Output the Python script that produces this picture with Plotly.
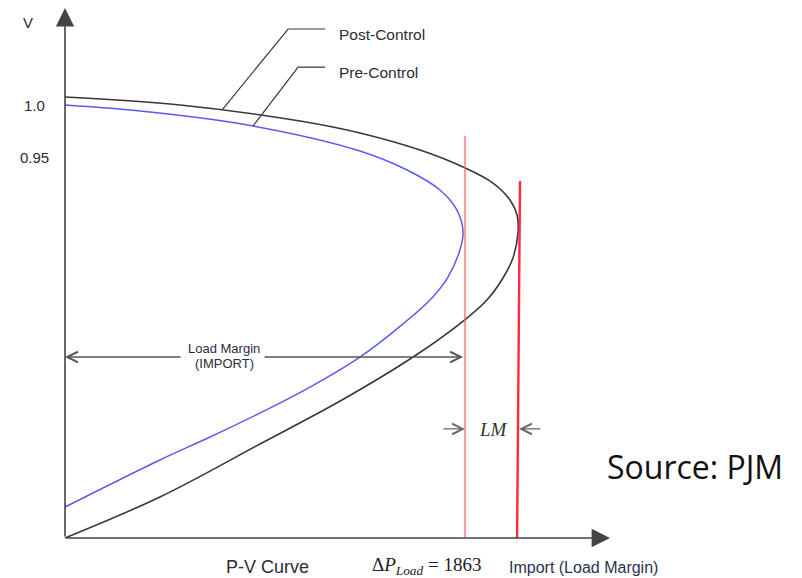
import plotly.graph_objects as go

# ---- data (P in MW, V in pu) ----
post_P = [0, 473, 966, 1212, 1459, 1636, 1759, 1829, 1858, 1862, 1841, 1800, 1734, 1652,
          1443, 1138, 801, 390, 0]
post_V = [1.0077, 1.0, 0.9846, 0.9731, 0.9567, 0.9404, 0.9250, 0.9087, 0.8942, 0.8779, 0.8529,
          0.8337, 0.8125, 0.7952, 0.7596, 0.7163, 0.6740, 0.6231, 0.5837]

pre_P = [0, 349, 773, 1212, 1406, 1541, 1611, 1636, 1623, 1574, 1500, 1348, 1212,
         1007, 801, 596, 390, 0]
pre_V = [1.0, 0.9933, 0.9798, 0.9558, 0.9375, 0.9183, 0.8990, 0.8779, 0.8606, 0.8346, 0.8125,
         0.7817, 0.7577, 0.7288, 0.7038, 0.6808, 0.6587, 0.6135]

tick_vals = [1.0, 0.95]
tick_text = ["1.0", "0.95"]

V_origin = 0.5837
V_axis_top = 1.0933
P_axis_end = 2240

pre_limit_P = 1644
pre_limit_top = 0.9702
post_limit_P_top = 1870
post_limit_P_bot = 1858
post_limit_top = 0.9269

margin_V = 0.7577
lm_V = 0.6885

# the page body has an 8px margin, so the figure sits at (8, 8)
OFF = 8
W, H = 802 - OFF, 578 - OFF
X_RANGE = [-234.3, 3029]
Y_RANGE = [0.5452, 1.0933]


def fx(px):
    return (px - OFF) / W


def fy(py):
    return 1 - (py - OFF) / H


fig = go.Figure()

fig.add_trace(go.Scatter(x=post_P, y=post_V, mode="lines",
                         line=dict(color="#383838", width=1.6, shape="spline", smoothing=1.0),
                         name="Post-Control", hoverinfo="skip"))
fig.add_trace(go.Scatter(x=pre_P, y=pre_V, mode="lines",
                         line=dict(color="#5b5bf2", width=1.5, shape="spline", smoothing=1.0),
                         name="Pre-Control", hoverinfo="skip"))

shapes = []
# limit lines
shapes.append(dict(type="line", x0=pre_limit_P, x1=pre_limit_P, y0=V_origin, y1=pre_limit_top,
                   line=dict(color="rgba(255,90,105,0.6)", width=2.2), layer="above"))
shapes.append(dict(type="line", x0=post_limit_P_bot, x1=post_limit_P_top, y0=V_origin, y1=post_limit_top,
                   line=dict(color="#ff2a3c", width=2.4), layer="above"))
# leader lines
shapes.append(dict(type="path", path="M 645,0.9952 L 917,1.0731 L 1069,1.0731",
                   line=dict(color="#3a3a3a", width=1.2)))
shapes.append(dict(type="path", path="M 773,0.9798 L 958,1.0365 L 1069,1.0365",
                   line=dict(color="#3a3a3a", width=1.2)))

annotations = []


def arrow(x, y, ax, ay, head=2, size=1.0, width=1.5, color="#3a3a3a"):
    annotations.append(dict(x=x, y=y, ax=ax, ay=ay, xref="x", yref="y", axref="x", ayref="y",
                            text="", showarrow=True, arrowhead=head, arrowsize=size,
                            arrowwidth=width, arrowcolor=color, standoff=0))


# axes with arrow heads
arrow(0, V_axis_top, 0, V_origin, head=2, size=2.3, width=1.6, color="#444")
arrow(P_axis_end, V_origin, 0, V_origin, head=2, size=2.3, width=1.6, color="#444")

# load margin arrows
arrow(0, margin_V, 481, margin_V, head=5, size=1.6, width=1.3, color="#555")
arrow(max(pre_P), margin_V, 814, margin_V, head=5, size=1.6, width=1.3, color="#555")

# LM arrows
arrow(pre_limit_P, lm_V, 1549, lm_V, head=5, size=1.6, width=1.3, color="#666")
arrow(1866, lm_V, 1960, lm_V, head=5, size=1.6, width=1.3, color="#666")

txt = "#2c2c38"
sans = "Liberation Sans, Arial, sans-serif"
serif = "Liberation Serif, Times New Roman, serif"


def label(text, px, py, size, anchor="center", family=sans, color=txt):
    annotations.append(dict(x=fx(px), y=fy(py), xref="paper", yref="paper", text=text,
                            showarrow=False, xanchor=anchor, yanchor="middle",
                            font=dict(family=family, size=size, color=color)))


label("V", 28, 23, 15)
for v, t in zip(tick_vals, tick_text):
    annotations.append(dict(x=-126, y=v, xref="x", yref="y", text=t, showarrow=False,
                            xanchor="center", yanchor="middle",
                            font=dict(family=sans, size=15, color=txt)))

label("Post-Control", 337, 34, 15.5, anchor="left")
label("Pre-Control", 337, 72, 15.5, anchor="left")
label("Load Margin", 224, 348, 13)
label("(IMPORT)", 224, 363, 13)
label("<i>LM</i>", 493, 429, 19, family=serif, color="#333")
label("Source: PJM", 605, 466, 32, anchor="left", family="Open Sans, sans-serif", color="#111")
label("P-V Curve", 267, 567, 18)
label("Δ<i>P</i><sub><i>Load</i></sub> = 1863", 370, 566, 19, anchor="left", family=serif, color="#222")
label("Import (Load Margin)", 507, 567, 16, anchor="left", color="#2a3350")

fig.update_layout(
    width=W, height=H,
    margin=dict(l=0, r=0, t=0, b=0),
    paper_bgcolor="white", plot_bgcolor="white",
    showlegend=False,
    xaxis=dict(range=X_RANGE, visible=False, fixedrange=True),
    yaxis=dict(range=Y_RANGE, visible=False, fixedrange=True),
    shapes=shapes, annotations=annotations,
)

fig.write_html("out.html")
